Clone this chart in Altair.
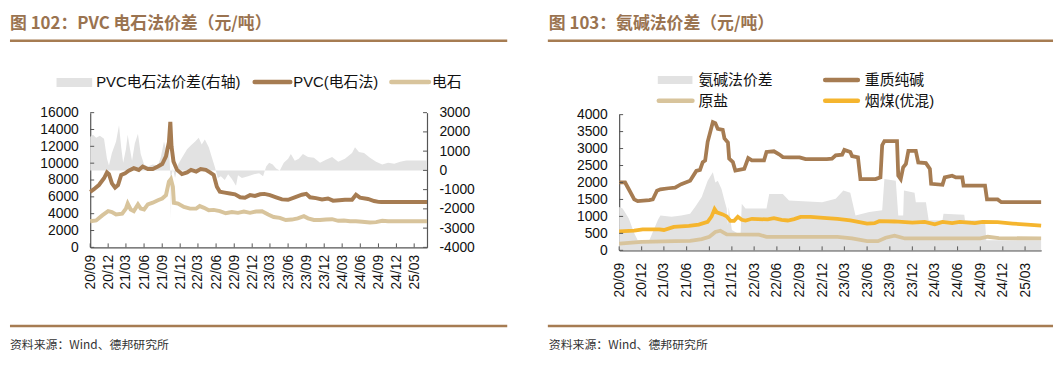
import altair as alt
import pandas as pd

# ---------------- data: left panel (PVC 电石法) ----------------
pvc_dates = ["2020-09-01","2020-09-20","2020-10-15","2020-11-10","2020-11-25","2020-12-05","2020-12-20",
             "2021-01-05","2021-01-20","2021-02-05","2021-02-25","2021-03-15","2021-04-10","2021-05-05",
             "2021-05-25","2021-06-20","2021-07-15","2021-08-10","2021-09-01","2021-09-20","2021-10-05",
             "2021-10-12","2021-10-18","2021-10-28","2021-11-15","2021-12-10","2022-01-05","2022-01-25",
             "2022-02-20","2022-03-15","2022-04-10","2022-05-01","2022-05-20","2022-06-05","2022-06-20",
             "2022-07-15","2022-08-10","2022-09-05","2022-10-01","2022-10-25","2022-11-20","2022-12-15",
             "2023-01-10","2023-02-01","2023-03-01","2023-04-01","2023-05-01","2023-06-01","2023-07-01",
             "2023-08-10","2023-09-01","2023-09-20","2023-10-20","2023-11-20","2023-12-20","2024-01-15",
             "2024-02-15","2024-03-15","2024-04-20","2024-05-10","2024-05-30","2024-07-10","2024-08-10",
             "2024-09-01","2024-09-15","2025-05-05"]
pvc_vals = [6600,6900,7400,8200,8900,8700,7600,7100,7400,8600,8800,9100,9400,9200,9600,9300,9300,9600,
            9900,10800,12500,14900,12000,10200,9200,8700,8900,9200,9000,9300,9200,8900,8600,7200,6600,
            6500,6400,6300,5950,5900,6200,6100,6300,6350,6200,5950,5700,5650,5900,6250,6350,5950,5850,
            5700,5800,5550,5600,5650,5650,6250,5900,5750,5500,5400,5380,5380]

carb_dates = ["2020-09-01","2020-10-01","2020-11-01","2020-12-01","2020-12-20","2021-01-10","2021-02-10",
              "2021-03-01","2021-03-10","2021-03-25","2021-04-10","2021-05-01","2021-05-15","2021-06-01",
              "2021-06-20","2021-07-15","2021-08-10","2021-09-01","2021-09-20","2021-10-05","2021-10-15",
              "2021-10-25","2021-10-30","2021-11-20","2021-12-20","2022-01-20","2022-02-20","2022-03-10",
              "2022-04-01","2022-04-25","2022-05-20","2022-06-20","2022-07-20","2022-08-20","2022-09-20",
              "2022-10-20","2022-11-20","2022-12-20","2023-01-20","2023-02-20","2023-03-20","2023-04-20",
              "2023-05-20","2023-06-20","2023-07-20","2023-08-20","2023-09-10","2023-10-10","2023-11-10",
              "2023-12-10","2024-01-10","2024-02-10","2024-03-10","2024-04-10","2024-05-10","2024-06-10",
              "2024-07-20","2024-08-20","2024-09-20","2024-10-20","2025-05-05"]
carb_vals = [3100,3200,3800,4300,4200,3900,4000,4600,5200,4500,4300,5100,4600,4500,5100,5300,5600,5800,
             6200,7800,8100,7200,5300,5200,4800,4600,4600,4900,4700,4400,4450,4300,4050,4200,4100,4250,
             4100,4250,4300,3900,3600,3500,3250,3300,3450,3700,3450,3250,3250,3300,3350,3150,3200,3100,
             3100,3050,2950,3000,3150,3100,3100]

spread_dates = ["2020-09-01","2020-09-15","2020-10-01","2020-10-20","2020-11-10","2020-11-25","2020-12-05",
                "2020-12-20","2021-01-10","2021-01-25","2021-02-05","2021-02-15","2021-03-01","2021-03-10",
                "2021-03-20","2021-04-01","2021-04-15","2021-05-01","2021-05-15","2021-06-01","2021-06-20",
                "2021-07-15","2021-08-10","2021-08-25","2021-09-10","2021-09-25","2021-10-05","2021-10-12",
                "2021-10-15","2021-10-18","2021-10-25","2021-11-05","2021-11-20","2021-12-10","2022-01-05",
                "2022-01-25","2022-02-15","2022-03-05","2022-03-20","2022-04-05","2022-04-25","2022-05-10",
                "2022-05-25","2022-06-10","2022-06-25","2022-07-15","2022-08-01","2022-08-20","2022-09-10",
                "2022-09-20","2022-10-10","2022-11-10","2022-12-10","2023-01-05","2023-01-25","2023-02-10",
                "2023-02-25","2023-03-15","2023-04-01","2023-04-20","2023-05-10","2023-06-01","2023-06-15",
                "2023-07-05","2023-07-25","2023-08-15","2023-09-10","2023-10-10","2023-11-10","2023-12-10",
                "2024-01-10","2024-02-10","2024-03-15","2024-04-20","2024-05-05","2024-05-25","2024-06-20",
                "2024-07-20","2024-08-20","2024-09-20","2024-10-20","2024-11-20","2024-12-20","2025-01-20",
                "2025-05-05"]
spread_vals = [1750,1850,1700,1800,1650,600,250,900,1500,2350,1200,400,1100,1850,1200,500,1400,1900,850,
               300,200,300,250,700,1500,900,1300,-200,-2500,-300,100,-400,300,650,1100,1300,1500,1700,
               1350,1600,1200,700,200,-400,-300,-500,-200,-450,-800,-250,-400,-300,-200,-150,-300,200,
               400,300,100,0,400,600,850,500,600,850,700,650,400,550,700,450,600,900,1200,950,900,650,
               450,300,400,350,450,520,520]

# ---------------- data: right panel (氨碱法) ----------------
soda_dates = ["2020-09-01","2020-09-25","2020-10-10","2020-11-01","2020-11-15","2021-01-01","2021-01-15",
              "2021-02-01","2021-02-15","2021-03-20","2021-04-15","2021-05-10","2021-06-15","2021-07-10",
              "2021-07-25","2021-08-05","2021-08-15","2021-08-25","2021-09-05","2021-09-15","2021-09-25",
              "2021-10-05","2021-10-25","2021-11-01","2021-11-15","2021-11-20","2021-12-05","2021-12-15",
              "2022-01-20","2022-02-05","2022-02-20","2022-04-10","2022-04-20","2022-05-20","2022-06-10",
              "2022-06-25","2022-07-20","2022-09-01","2022-09-25","2022-12-20","2023-01-10","2023-01-25",
              "2023-02-20","2023-03-01","2023-03-25","2023-04-01","2023-04-25","2023-05-05","2023-07-05",
              "2023-07-25","2023-08-01","2023-08-10","2023-09-30","2023-10-05","2023-10-15","2023-10-25",
              "2023-11-05","2023-11-15","2023-12-15","2023-12-25","2024-01-25","2024-02-10","2024-02-15",
              "2024-04-01","2024-04-10","2024-05-10","2024-05-25","2024-06-20","2024-06-25","2024-09-20",
              "2024-09-28","2024-11-10","2024-11-25","2025-05-05"]
soda_vals = [2000,2000,1800,1500,1450,1480,1500,1760,1800,1830,1850,1950,2050,2340,2370,2600,2650,3200,
             3500,3780,3750,3580,3550,3300,3180,2700,2600,2350,2400,2720,2650,2650,2900,2920,2830,2750,
             2740,2740,2690,2690,2700,2800,2820,2960,2900,2780,2740,2100,2100,2150,3100,3220,3220,2200,
             2100,2450,2550,2930,2930,2590,2570,2400,1960,1930,2150,2200,2150,2150,1910,1910,1500,1500,
             1420,1420]

salt_dates = ["2020-09-01","2020-12-01","2021-04-15","2021-06-15","2021-08-01","2021-09-01","2021-09-25",
              "2021-10-15","2021-11-10","2022-03-20","2022-04-20","2023-02-01","2023-04-01","2023-06-01",
              "2023-07-15","2023-08-15","2023-09-20","2023-11-01","2024-09-01","2024-10-01","2024-11-15",
              "2025-05-05"]
salt_vals = [200,250,270,280,330,400,540,580,470,460,400,400,350,270,270,370,430,350,350,400,360,350]

coal_dates = ["2020-09-01","2020-11-01","2020-12-05","2021-02-10","2021-03-01","2021-04-10","2021-06-10",
              "2021-07-20","2021-08-25","2021-09-10","2021-09-22","2021-10-01","2021-10-25","2021-11-10",
              "2021-11-25","2021-12-10","2021-12-25","2022-01-10","2022-01-25","2022-02-20","2022-04-25",
              "2022-05-20","2022-06-20","2022-07-15","2022-08-10","2022-09-05","2022-10-15","2022-12-20",
              "2023-02-01","2023-03-25","2023-05-01","2023-06-01","2023-07-01","2023-07-20","2023-09-20",
              "2023-12-01","2024-01-20","2024-03-01","2024-04-01","2024-05-10","2024-06-10","2024-08-10",
              "2024-09-10","2024-11-10","2025-01-10","2025-03-10","2025-05-05"]
coal_vals = [560,580,620,620,600,690,720,760,840,1000,1220,1120,1060,1000,870,870,990,900,880,930,910,
             950,900,880,920,985,985,950,930,880,830,790,800,860,850,820,840,770,840,800,840,800,840,
             830,790,760,730]

ammonia_dates = ["2020-09-01","2020-09-15","2020-10-10","2020-11-01","2020-11-15","2021-01-01","2021-02-05",
                 "2021-02-15","2021-04-01","2021-05-10","2021-06-15","2021-07-05","2021-08-01","2021-08-25",
                 "2021-09-15","2021-09-25","2021-10-05","2021-10-20","2021-11-01","2021-11-10","2021-11-15",
                 "2021-11-18","2021-12-01","2022-01-05","2022-01-10","2022-01-25","2022-04-20","2022-05-01",
                 "2022-06-25","2022-07-20","2022-12-01","2023-01-25","2023-02-25","2023-03-25","2023-04-15",
                 "2023-06-10","2023-08-01","2023-08-10","2023-09-25","2023-10-05","2023-10-25","2023-10-28",
                 "2023-12-10","2023-12-15","2024-01-25","2024-02-05","2024-04-01","2024-04-05","2024-06-28",
                 "2024-07-01","2024-09-20","2024-09-25","2025-05-05"]
ammonia_vals = [1280,1230,940,500,300,300,900,1030,990,1030,1080,1280,1570,2050,2300,2000,2050,1810,1470,
                1230,740,1280,600,450,1370,1230,1230,1660,1660,1470,1420,1520,1760,1700,1030,1130,1180,
                2100,2050,1030,1030,1760,1700,1420,1420,885,885,1080,1050,885,885,300,300]

# ---------------- axis values / text ----------------
xtick_months = [(2020, 9), (2020, 12), (2021, 3), (2021, 6), (2021, 9), (2021, 12), (2022, 3), (2022, 6),
                (2022, 9), (2022, 12), (2023, 3), (2023, 6), (2023, 9), (2023, 12), (2024, 3), (2024, 6),
                (2024, 9), (2024, 12), (2025, 3)]
left_y_ticks = [0, 2000, 4000, 6000, 8000, 10000, 12000, 14000, 16000]
left_y2_ticks = [-4000, -3000, -2000, -1000, 0, 1000, 2000, 3000]
right_y_ticks = [0, 500, 1000, 1500, 2000, 2500, 3000, 3500, 4000]

title_left = "图 102：PVC 电石法价差（元/吨）"
title_right = "图 103：氨碱法价差（元/吨）"
source_text = "资料来源：Wind、德邦研究所"

BROWN = "#a67c52"
TAN = "#d8c49c"
YELLOW = "#f5b52e"
GRAY = "#e2e2e2"
HEAD = "#9a7350"
AX = "#555555"
FONT = "Liberation Sans"
MIXFONT = "Liberation Sans, 'Noto Sans CJK SC'"
CJK = "Noto Sans CJK SC"


def frame(dates, vals):
    return pd.DataFrame({"date": pd.to_datetime(dates), "v": vals})


xtick_dt = [alt.DateTime(year=y, month=m, date=1) for y, m in xtick_months]
xtick_df = pd.DataFrame({"date": pd.to_datetime([f"{y}-{m:02d}-01" for y, m in xtick_months])})
xdomain = [alt.DateTime(year=2020, month=9, date=1), alt.DateTime(year=2025, month=5, date=5)]
dummy = alt.Data(values=[{"a": 1}])


def xaxis(pad):
    return alt.Axis(values=xtick_dt, format="%y/%m", labelAngle=270, labelAlign="right",
                    labelBaseline="middle", ticks=False, labelPadding=pad, domainColor=AX,
                    domainWidth=1.2, labelFont=FONT, labelFontSize=14, labelColor="#111",
                    labelFlush=False, labelOverlap=False, labelBound=False, grid=False, title=None)


def yaxis(values, orient, pad=12):
    return alt.Axis(values=values, orient=orient, ticks=False, labelPadding=pad, domainColor=AX,
                    domainWidth=1.2, labelFont=FONT, labelFontSize=14, labelColor="#111",
                    labelExpr="'' + datum.value", grid=False, title=None, labelOverlap=False)


def txt(x, y, s, size, color, weight="normal", font=MIXFONT):
    return alt.Chart(dummy).mark_text(align="left", baseline="alphabetic", fontSize=size, font=font,
                                      color=color, fontWeight=weight).encode(
        x=alt.value(x), y=alt.value(y), text=alt.value(s))


def hrule(x1, x2, y, color, w, cap="butt"):
    return alt.Chart(dummy).mark_rule(color=color, strokeWidth=w, strokeCap=cap).encode(
        x=alt.value(x1), x2=alt.value(x2), y=alt.value(y))


def box(x1, x2, y1, y2, color):
    return alt.Chart(dummy).mark_rect(color=color).encode(
        x=alt.value(x1), x2=alt.value(x2), y=alt.value(y1), y2=alt.value(y2))


# ---------------- left panel (plot origin at page 89,113) ----------------
LW, LH = 340, 136
LXAX = xaxis(7)
LYAX = yaxis(left_y_ticks, "left")
LY2AX = yaxis(left_y2_ticks, "right")
lx = alt.X("date:T", scale=alt.Scale(domain=xdomain), axis=LXAX)
ly_scale = alt.Scale(domain=[0, 16000], nice=False)
ly2_scale = alt.Scale(domain=[-4000, 3000], nice=False)

area_l = alt.Chart(frame(spread_dates, spread_vals)).mark_area(color=GRAY, opacity=1).encode(
    x=lx, y=alt.Y("v:Q", scale=ly2_scale, axis=LY2AX))
rticks_l = alt.Chart(pd.DataFrame({"v": left_y2_ticks})).mark_rule(color=AX).encode(
    y=alt.Y("v:Q", scale=ly2_scale, axis=LY2AX), x=alt.value(LW - 4), x2=alt.value(LW))
right_group = alt.layer(area_l, rticks_l)

pvc_line = alt.Chart(frame(pvc_dates, pvc_vals)).mark_line(color=BROWN, strokeWidth=4).encode(
    x=lx, y=alt.Y("v:Q", scale=ly_scale, axis=LYAX))
carb_line = alt.Chart(frame(carb_dates, carb_vals)).mark_line(color=TAN, strokeWidth=4).encode(
    x=lx, y=alt.Y("v:Q", scale=ly_scale, axis=LYAX))
lticks_l = alt.Chart(pd.DataFrame({"v": left_y_ticks})).mark_rule(color=AX).encode(
    y=alt.Y("v:Q", scale=ly_scale, axis=LYAX), x=alt.value(0), x2=alt.value(4))
lxticks = alt.Chart(xtick_df).mark_rule(color=AX, strokeWidth=1).encode(
    x=lx, y=alt.value(LH - 4), y2=alt.value(LH))
left_group = alt.layer(pvc_line, carb_line, lticks_l, lxticks)

left_deco = [
    txt(-81, -84, title_left, 17, HEAD, "bold", CJK),
    hrule(-81, 421, -72.5, BROWN, 2.5),
    box(-34, 2, -35, -26, GRAY),
    txt(6, -26, "PVC电石法价差(右轴)", 15, "#111"),
    hrule(166, 202, -31, BROWN, 4.5, "round"),
    txt(205, -26, "PVC(电石法)", 15, "#111"),
    hrule(304, 342, -31, TAN, 4.5, "round"),
    txt(345, -26, "电石", 15, "#111"),
    hrule(-81, 421, 215.5, BROWN, 2.5),
    txt(-81, 239, source_text, 12, "#333", "normal", CJK),
]

left_panel = alt.layer(right_group, left_group, *left_deco).resolve_scale(y="independent").properties(
    width=LW, height=LH)

# ---------------- right panel (origin at page 619,113; data area starts 2px lower) ----------------
RW, RH = 426, 139
RXAX = xaxis(12)
RYAX = yaxis(right_y_ticks, "left")
rx = alt.X("date:T", scale=alt.Scale(domain=xdomain), axis=RXAX)
ry_scale = alt.Scale(domain=[0, 4000], nice=False, range=[RH, 2])

area_r = alt.Chart(frame(ammonia_dates, ammonia_vals)).mark_area(color=GRAY, opacity=1).encode(
    x=rx, y=alt.Y("v:Q", scale=ry_scale, axis=RYAX))
soda_line = alt.Chart(frame(soda_dates, soda_vals)).mark_line(color=BROWN, strokeWidth=3.8).encode(
    x=rx, y=alt.Y("v:Q", scale=ry_scale, axis=RYAX))
salt_line = alt.Chart(frame(salt_dates, salt_vals)).mark_line(color=TAN, strokeWidth=3.8).encode(
    x=rx, y=alt.Y("v:Q", scale=ry_scale, axis=RYAX))
coal_line = alt.Chart(frame(coal_dates, coal_vals)).mark_line(color=YELLOW, strokeWidth=3.8).encode(
    x=rx, y=alt.Y("v:Q", scale=ry_scale, axis=RYAX))
yticks_r = alt.Chart(pd.DataFrame({"v": right_y_ticks})).mark_rule(color=AX).encode(
    y=alt.Y("v:Q", scale=ry_scale, axis=RYAX), x=alt.value(0), x2=alt.value(4))
rxticks = alt.Chart(xtick_df).mark_rule(color=AX, strokeWidth=1).encode(
    x=rx, y=alt.value(RH - 4), y2=alt.value(RH))

right_deco = [
    txt(-71, -84, title_right, 17, HEAD, "bold", CJK),
    hrule(-72, 438, -72.5, BROWN, 2.5),
    box(39, 74, -37, -29, GRAY),
    txt(80, -28, "氨碱法价差", 15, "#111"),
    hrule(208, 241, -33, BROWN, 4.5, "round"),
    txt(248, -28, "重质纯碱", 15, "#111"),
    hrule(40, 74, -12, TAN, 4.5, "round"),
    txt(80, -7, "原盐", 15, "#111"),
    hrule(208, 241, -12, YELLOW, 4.5, "round"),
    txt(248, -7, "烟煤(优混)", 15, "#111"),
    hrule(-72, 438, 215.5, BROWN, 2.5),
    txt(-71, 239, source_text, 12, "#333", "normal", CJK),
]

right_panel = alt.layer(area_r, soda_line, salt_line, coal_line, yticks_r, rxticks,
                        *right_deco).properties(width=RW, height=RH)

chart = alt.hconcat(left_panel, right_panel, spacing=37).properties(
    padding={"top": 6, "left": 0, "right": 0, "bottom": 0}, background="white"
).configure_view(stroke=None).configure_axis(labelOverlap=False)

chart.save("out.html", embed_options={"renderer": "svg", "actions": False})
